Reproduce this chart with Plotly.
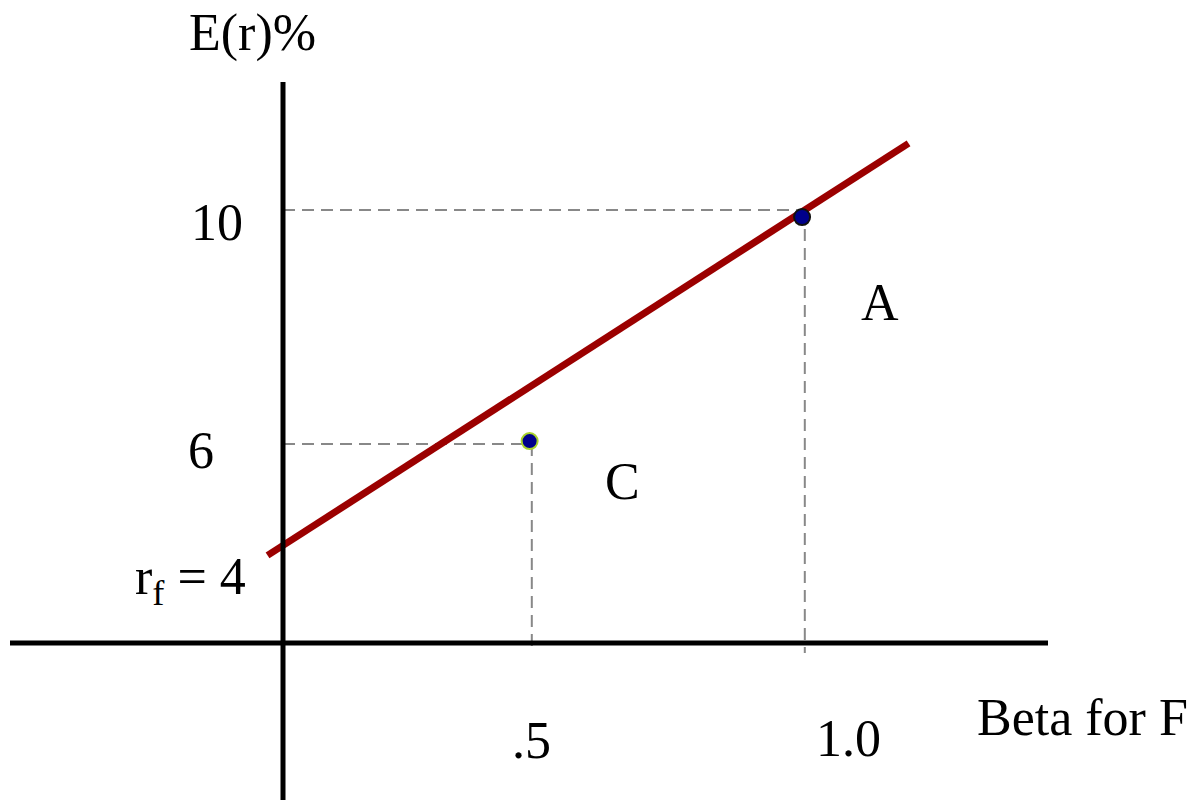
import plotly.graph_objects as go

# ---- data ----
rf = 4.0                      # risk-free rate (%)
slope = 6.0                   # market risk premium per unit beta
sml_beta = [0.016, 1.19]      # extent of the security market line
point_names = ["A", "C"]
point_beta = [0.995, 0.496]
point_return = [9.88, 6.05]
guide_beta = [1.0, 0.5]       # dashed guide positions
guide_return = [10.0, 6.0]
y_tick_labels = ["10", "6"]
x_tick_labels = [".5", "1.0"]

# coordinate helpers (pixel -> data) for placing text
X0, XS = -0.474, 546.0
Y0, YS = 13.59, 58.5
def xd(px): return X0 + px / XS
def yd(py): return Y0 - py / YS

sml_return = [rf + slope * b for b in sml_beta]

fig = go.Figure()
FONT = dict(family="Liberation Serif, Times New Roman, serif", size=52, color="black")

axis_x = xd(283)
axis_y = yd(643)

# dashed guides
for gb, gr, in zip(guide_beta, guide_return):
    fig.add_trace(go.Scatter(x=[axis_x, gb], y=[gr, gr], mode="lines",
                             line=dict(color="#888888", width=2, dash="12px,7px"),
                             hoverinfo="skip", showlegend=False))
    fig.add_trace(go.Scatter(x=[gb, gb], y=[gr, yd(653)], mode="lines",
                             line=dict(color="#888888", width=2, dash="12px,7px"),
                             hoverinfo="skip", showlegend=False))

# axes
fig.add_shape(type="line", x0=axis_x, x1=axis_x, y0=yd(82), y1=yd(805),
              line=dict(color="black", width=5))
fig.add_shape(type="line", x0=xd(10), x1=xd(1048), y0=axis_y, y1=axis_y,
              line=dict(color="black", width=5))

# SML
fig.add_trace(go.Scatter(x=sml_beta, y=sml_return, mode="lines",
                         line=dict(color="#9b0000", width=7),
                         hoverinfo="skip", showlegend=False))

# points
fig.add_trace(go.Scatter(x=point_beta, y=point_return, mode="markers",
                         marker=dict(size=16, color="#00008b",
                                     line=dict(color=["#111111", "#a8d22a"], width=2)),
                         showlegend=False))

# labels
ann = []
ann.append(dict(x=xd(252), y=yd(33), text="E(r)%"))
ann.append(dict(x=xd(217), y=yd(222), text=y_tick_labels[0]))
ann.append(dict(x=xd(201), y=yd(450), text=y_tick_labels[1]))
ann.append(dict(x=xd(190), y=yd(580),
                text="r<sub>f</sub> = %d" % rf))
ann.append(dict(x=xd(531), y=yd(740), text=x_tick_labels[0]))
ann.append(dict(x=xd(848), y=yd(738), text=x_tick_labels[1]))
ann.append(dict(x=xd(1082), y=yd(717), text="Beta for F"))
ann.append(dict(x=xd(880), y=yd(302), text=point_names[0]))
ann.append(dict(x=xd(622), y=yd(481), text=point_names[1]))
for a in ann:
    a.update(xref="x", yref="y", showarrow=False, font=FONT,
             xanchor="center", yanchor="middle")

fig.update_layout(
    width=1197, height=800,
    margin=dict(l=0, r=0, t=0, b=0),
    plot_bgcolor="white", paper_bgcolor="white",
    xaxis=dict(range=[X0, X0 + 1197 / XS], visible=False, fixedrange=True),
    yaxis=dict(range=[Y0 - 800 / YS, Y0], visible=False, fixedrange=True),
    annotations=ann,
    showlegend=False,
)

fig.write_html("out.html", config={"displayModeBar": False},
               post_script="document.body.style.margin='0';document.body.style.overflow='hidden';")
